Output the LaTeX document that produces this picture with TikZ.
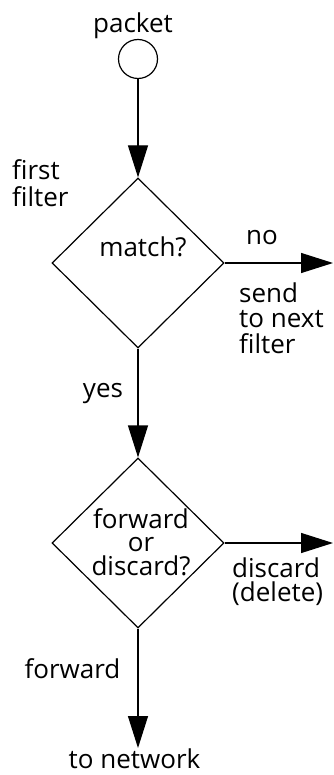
\documentclass[tikz,border=0pt]{standalone}
\usepackage{fontspec}
\setmainfont{Open Sans}
\usetikzlibrary{arrows.meta,shapes.geometric}
\begin{document}
\begin{tikzpicture}[x=1pt,y=-1pt,
  lbl/.style={font=\fontsize{26}{26}\selectfont, inner sep=0pt, anchor=base},
  flow/.style={line width=1.2pt, -{Triangle[length=32pt,width=20pt]}},
  dec/.style={draw, line width=1.2pt, diamond, minimum width=172pt, minimum height=170pt, inner sep=0pt},
  startc/.style={draw, line width=1.2pt, circle, minimum size=39pt, inner sep=0pt}]
\useasboundingbox (0,0) rectangle (333,775);
\node[lbl] (pk) at (133,33) {packet};
\node[startc] (c) at (138,59) {};
\node[dec] (d1) at (138,263) {};
\node[lbl] (t1) at (143,257) {match?};
\node[lbl, align=left, anchor=base west, font=\fontsize{26}{27}\selectfont] (ff) at (12,207) {first\\filter};
\coordinate (e1) at (333,263);
\node[lbl] (no) at (262,244) {no};
\node[lbl, align=left, anchor=base west, font=\fontsize{26}{25.5}\selectfont] (snd) at (239,353) {send\\to next\\filter};
\node[lbl] (yes) at (103,397) {yes};
\node[dec] (d2) at (138,543) {};
\node[lbl, align=center, font=\fontsize{26}{23.5}\selectfont] (t2) at (141,575) {forward\\or\\discard?};
\coordinate (e2) at (333,543);
\node[lbl, align=left, anchor=base west, font=\fontsize{26}{24}\selectfont] (dsc) at (232,601) {discard\\(delete)};
\node[lbl] (fw) at (72.5,678) {forward};
\coordinate (net) at (138,748);
\node[lbl] (tn) at (134.5,768) {to network};
\draw[flow] (c) -- (d1.north);
\draw[flow] (d1.east) -- (e1);
\draw[flow] (d1.south) -- (d2.north);
\draw[flow] (d2.east) -- (e2);
\draw[flow] (d2.south) -- (net);
\end{tikzpicture}
\end{document}
